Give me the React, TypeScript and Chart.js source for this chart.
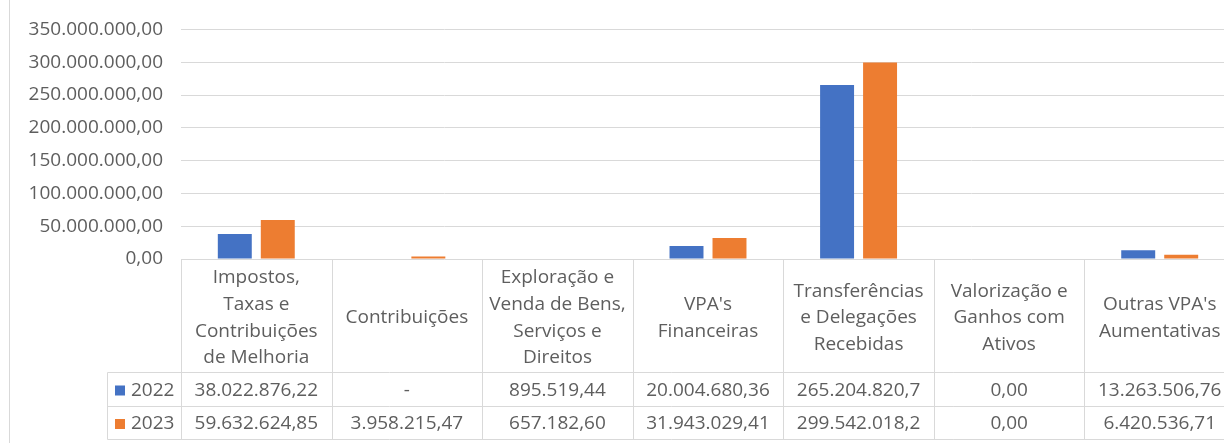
import React, { useEffect, useRef } from 'react';
import { Chart, registerables } from 'chart.js';

Chart.register(...registerables);

// ---- data ----
const categories: string[][] = [
  ['Impostos,', 'Taxas e', 'Contribuições', 'de Melhoria'],
  ['Contribuições'],
  ['Exploração e', 'Venda de Bens,', 'Serviços e', 'Direitos'],
  ["VPA's", 'Financeiras'],
  ['Transferências', 'e Delegações', 'Recebidas'],
  ['Valorização e', 'Ganhos com', 'Ativos'],
  ["Outras VPA's", 'Aumentativas'],
];
const seriesNames = ['2022', '2023'];
const values2022: (number | null)[] = [38022876.22, null, 895519.44, 20004680.36, 265204820.7, 0, 13263506.76];
const values2023: (number | null)[] = [59632624.85, 3958215.47, 657182.6, 31943029.41, 299542018.2, 0, 6420536.71];
const table2022 = ['38.022.876,22', '-', '895.519,44', '20.004.680,36', '265.204.820,7', '0,00', '13.263.506,76'];
const table2023 = ['59.632.624,85', '3.958.215,47', '657.182,60', '31.943.029,41', '299.542.018,2', '0,00', '6.420.536,71'];
const yMax = 350000000;
const yStep = 50000000;

const COLORS = ['#4472C4', '#ED7D31'];
const TEXT = '#5e5e5e';
const LINE = '#d9d9d9';
const FONT_FAMILY = '"Open Sans", sans-serif';
const FONT_SIZE = 19;

function fmtBR(v: number): string {
  const [i, d] = v.toFixed(2).split('.');
  return i.replace(/\B(?=(\d{3})+(?!\d))/g, '.') + ',' + d;
}

const tablePlugin = {
  id: 'dataTable',
  afterDraw(chart: any) {
    const ctx: CanvasRenderingContext2D = chart.ctx;
    const area = chart.chartArea;
    const n = categories.length;
    const colW = (area.right - area.left) / n;
    const top = area.bottom;
    const headerBottom = top + 113;
    const row1Bottom = headerBottom + 34;
    const row2Bottom = row1Bottom + 33;
    const legendLeft = 107.5;

    ctx.save();
    ctx.strokeStyle = LINE;
    ctx.lineWidth = 1;
    ctx.beginPath();
    // chart outer left border
    ctx.moveTo(9.5, 0);
    ctx.lineTo(9.5, chart.height);
    // horizontal table lines
    for (const y of [headerBottom, row1Bottom, row2Bottom]) {
      ctx.moveTo(legendLeft, Math.round(y) + 0.5);
      ctx.lineTo(area.right, Math.round(y) + 0.5);
    }
    // vertical lines
    for (let i = 0; i <= n; i++) {
      const x = Math.round(area.left + i * colW) + 0.5;
      ctx.moveTo(x, top);
      ctx.lineTo(x, Math.round(row2Bottom) + 0.5);
    }
    ctx.moveTo(legendLeft, Math.round(headerBottom) + 0.5);
    ctx.lineTo(legendLeft, Math.round(row2Bottom) + 0.5);
    ctx.stroke();

    ctx.fillStyle = TEXT;
    ctx.font = `${FONT_SIZE}px ${FONT_FAMILY}`;
    ctx.textAlign = 'center';
    ctx.textBaseline = 'middle';
    const lineH = 26.7;
    const headerMid = (top + headerBottom) / 2 + 2.5;
    const xs = chart.scales.x;
    categories.forEach((lines, i) => {
      const cx = xs.getPixelForValue(i);
      const y0 = headerMid - ((lines.length - 1) * lineH) / 2;
      lines.forEach((l, k) => ctx.fillText(l, cx, y0 + k * lineH));
    });
    const rows = [table2022, table2023];
    const rowMids = [(headerBottom + row1Bottom) / 2 + 1.5, (row1Bottom + row2Bottom) / 2 + 1.5];
    rows.forEach((r, ri) => {
      r.forEach((t, i) => {
        const cx = xs.getPixelForValue(i);
        ctx.fillText(t, cx, rowMids[ri]);
      });
      // legend
      ctx.fillStyle = COLORS[ri];
      ctx.fillRect(115, rowMids[ri] - 5, 10, 10);
      ctx.fillStyle = TEXT;
      ctx.textAlign = 'left';
      ctx.fillText(seriesNames[ri], 131, rowMids[ri]);
      ctx.textAlign = 'center';
    });
    ctx.restore();
  },
};

export default function App() {
  const ref = useRef<HTMLCanvasElement>(null);
  useEffect(() => {
    if (!ref.current) return;
    const chart = new Chart(ref.current, {
      type: 'bar',
      data: {
        labels: categories,
        datasets: [
          { label: seriesNames[0], data: values2022, backgroundColor: COLORS[0], categoryPercentage: 0.571, barPercentage: 0.79 },
          { label: seriesNames[1], data: values2023, backgroundColor: COLORS[1], categoryPercentage: 0.571, barPercentage: 0.79 },
        ],
      },
      options: {
        responsive: false,
        animation: false,
        layout: { padding: { left: 0, right: 5, top: 25, bottom: 3 } },
        plugins: { legend: { display: false }, tooltip: { enabled: false } },
        scales: {
          x: {
            ticks: { display: false },
            grid: { display: false },
            border: { display: false },
            afterFit: (s: any) => { s.height = 181; },
          },
          y: {
            min: 0,
            max: yMax,
            ticks: {
              stepSize: yStep,
              color: TEXT,
              padding: 18,
              font: { family: FONT_FAMILY, size: FONT_SIZE },
              callback: (v: any) => fmtBR(Number(v)),
            },
            grid: { color: LINE, drawTicks: false, tickLength: 0 },
            border: { display: false },
            afterFit: (s: any) => { s.width = 181; },
          },
        },
      },
      plugins: [tablePlugin],
    });
    return () => chart.destroy();
  }, []);
  return (
    <div style={{ position: 'fixed', left: 0, top: 0, width: 1224, height: 443, overflow: 'hidden', background: '#fff' }}>
      <canvas ref={ref} width={1240} height={443} style={{ display: 'block', width: 1240, height: 443 }} />
    </div>
  );
}
